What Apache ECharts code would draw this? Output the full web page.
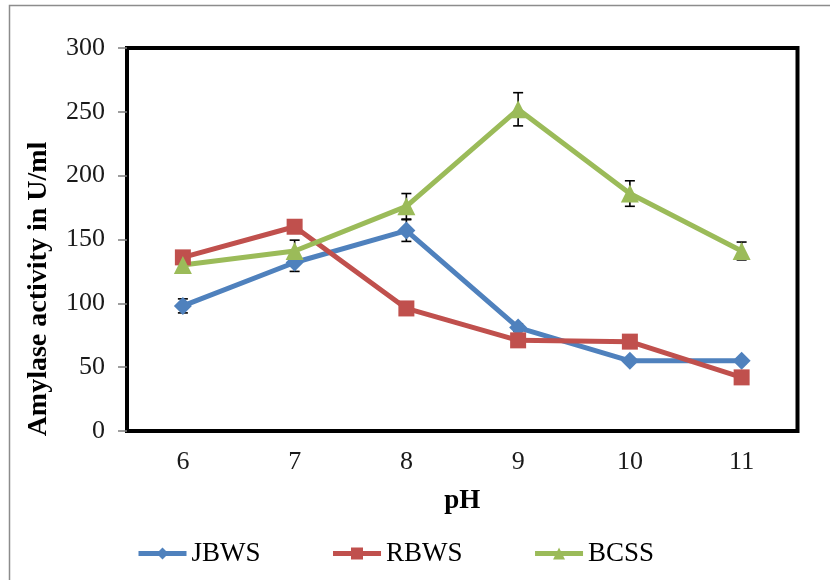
<!DOCTYPE html>
<html>
<head>
<meta charset="utf-8">
<script src="https://cdn.jsdelivr.net/npm/echarts@6/dist/echarts.min.js"></script>
<style>
html,body{margin:0;padding:0;background:#fff;}
#chart{width:830px;height:580px;}
</style>
</head>
<body>
<div id="chart"></div>
<script>
var categories = ['6', '7', '8', '9', '10', '11'];
var jbws = [98, 132, 157, 81, 55, 55];
var rbws = [136, 160, 96, 71, 70, 42];
var bcss = [130, 141, 176, 252, 186, 141];
var jbwsErr = [5.5, 7, 8.5, 3, 2, 2];
var rbwsErr = [3, 4, 3, 2, 2, 2];
var bcssErr = [6, 8.5, 10, 13, 10, 7];
var yTicks = [0, 50, 100, 150, 200, 250, 300];

var FONT = 'Liberation Serif';
var colors = ['#4F81BD', '#C0504D', '#9BBB59'];

function errData(vals, errs) {
  return vals.map(function (v, i) { return [i, v - errs[i], v + errs[i]]; });
}
function errSeries(vals, errs) {
  return {
    type: 'custom',
    z: 1,
    silent: true,
    encode: { x: 0, y: [1, 2] },
    data: errData(vals, errs),
    renderItem: function (params, api) {
      var lo = api.coord([api.value(0), api.value(1)]);
      var hi = api.coord([api.value(0), api.value(2)]);
      var w = 5;
      var st = { stroke: '#000', lineWidth: 1.6 };
      return {
        type: 'group',
        children: [
          { type: 'line', shape: { x1: lo[0], y1: lo[1], x2: hi[0], y2: hi[1] }, style: st },
          { type: 'line', shape: { x1: lo[0] - w, y1: lo[1], x2: lo[0] + w, y2: lo[1] }, style: st },
          { type: 'line', shape: { x1: hi[0] - w, y1: hi[1], x2: hi[0] + w, y2: hi[1] }, style: st }
        ]
      };
    }
  };
}
function lineSeries(name, vals, color, symbol, size) {
  return {
    name: name,
    type: 'line',
    z: 3,
    data: vals,
    symbol: symbol,
    symbolSize: size,
    showAllSymbol: true,
    color: color,
    lineStyle: { width: 5, color: color },
    itemStyle: { color: color },
    emphasis: { disabled: true }
  };
}

var chart = echarts.init(document.getElementById('chart'), null, { renderer: 'canvas' });
chart.setOption({
  animation: false,
  backgroundColor: '#fff',
  textStyle: { fontFamily: FONT },
  graphic: [
    {
      type: 'rect',
      shape: { x: 9.5, y: 5.5, width: 900, height: 900 },
      style: { fill: 'none', stroke: '#8c8c8c', lineWidth: 1.5 },
      silent: true, z: -10
    },
    {
      type: 'text',
      x: 39, y: 289,
      rotation: Math.PI / 2,
      style: {
        text: 'Amylase activity in U/ml',
        font: 'bold 28px "Liberation Serif"',
        fill: '#000',
        textAlign: 'center',
        textVerticalAlign: 'middle'
      },
      silent: true
    }
  ],
  grid: {
    left: 127, right: 32.5, top: 48, bottom: 149,
    show: true,
    borderColor: '#000',
    borderWidth: 4,
    containLabel: false
  },
  legend: {
    data: ['JBWS', 'RBWS', 'BCSS'],
    left: 131,
    top: 535,
    itemWidth: 48,
    itemHeight: 15,
    itemGap: 70,
    lineStyle: { width: 5 },
    textStyle: { fontFamily: FONT, fontSize: 27, color: '#000' },
    selectedMode: false
  },
  xAxis: {
    type: 'category',
    data: categories,
    boundaryGap: true,
    name: 'pH',
    nameLocation: 'middle',
    nameGap: 57,
    nameTextStyle: { fontFamily: FONT, fontSize: 27, fontWeight: 'bold', color: '#000' },
    axisLine: { show: false },
    axisTick: { show: false },
    axisLabel: { fontFamily: FONT, fontSize: 26, color: '#1a1a1a', margin: 18 },
    splitLine: { show: false }
  },
  yAxis: {
    type: 'value',
    min: yTicks[0],
    max: yTicks[yTicks.length - 1],
    interval: 50,
    axisLine: { show: false },
    axisTick: { show: true, length: 9, lineStyle: { color: '#7f7f7f', width: 1.5 } },
    axisLabel: { fontFamily: FONT, fontSize: 26, color: '#1a1a1a', margin: 22 },
    splitLine: { show: false }
  },
  series: [
    errSeries(jbws, jbwsErr),
    errSeries(rbws, rbwsErr),
    errSeries(bcss, bcssErr),
    lineSeries('JBWS', jbws, colors[0], 'diamond', 18),
    lineSeries('RBWS', rbws, colors[1], 'rect', 16),
    lineSeries('BCSS', bcss, colors[2], 'triangle', 18)
  ]
});
</script>
</body>
</html>
